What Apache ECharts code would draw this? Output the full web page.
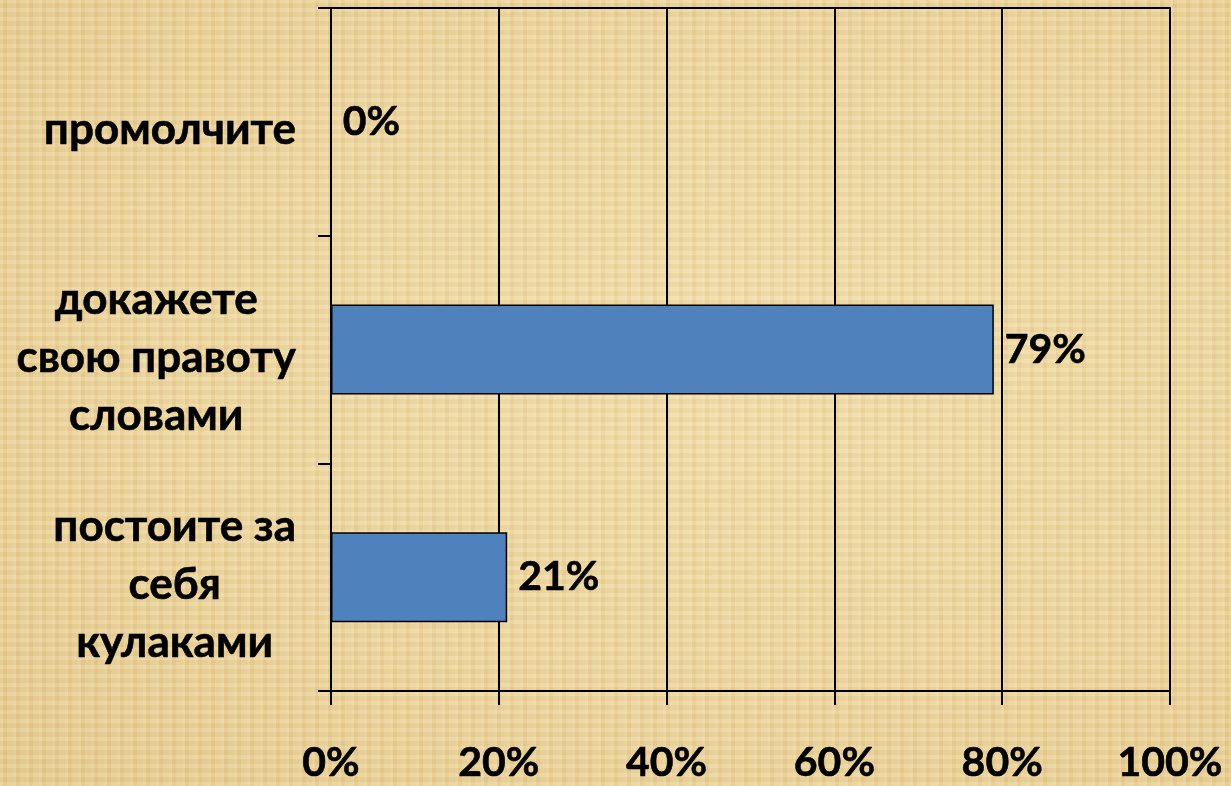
<!DOCTYPE html>
<html>
<head>
<meta charset="utf-8">
<script src="https://cdn.jsdelivr.net/npm/echarts@6/dist/echarts.min.js"></script>
<style>
html,body{margin:0;padding:0;width:1231px;height:786px;overflow:hidden;}
body{
  background-color:#ebd59e;
  background-image:
    repeating-linear-gradient(90deg, rgba(255,250,220,0.16) 0px, rgba(255,250,220,0.16) 3px, rgba(200,160,90,0.07) 3px, rgba(200,160,90,0.07) 7px, rgba(255,245,210,0.1) 7px, rgba(255,245,210,0.1) 13px),
    repeating-linear-gradient(0deg, rgba(255,250,220,0.13) 0px, rgba(255,250,220,0.13) 4px, rgba(190,150,80,0.07) 4px, rgba(190,150,80,0.07) 9px),
    radial-gradient(ellipse at 60% 45%, #f0dca8 0%, #ead29a 55%, #e3c78a 100%);
}
#chart{width:1231px;height:786px;}
</style>
</head>
<body>
<div id="chart"></div>
<script>
const categories = ['промолчите', 'докажете\nсвою правоту\nсловами', 'постоите за\nсебя\nкулаками'];
const values = [0, 79, 21];
const xTicks = [0, 20, 40, 60, 80, 100];

const FONT = 'Lato';
const FS_CAT = 44;
const FS_VAL = 41;
const chart = echarts.init(document.getElementById('chart'));
chart.setOption({
  backgroundColor: 'transparent',
  animation: false,
  grid: { left: 331, right: 61, top: 8, bottom: 95, containLabel: false },
  xAxis: [{
    type: 'value', min: xTicks[0], max: xTicks[xTicks.length - 1], interval: 20,
    position: 'bottom',
    axisLine: { show: true, lineStyle: { color: '#000', width: 2 } },
    axisTick: { show: true, length: 14, inside: false, lineStyle: { color: '#000', width: 2 } },
    splitLine: { show: true, lineStyle: { color: '#000', width: 2 } },
    axisLabel: { formatter: '{value}%', color: '#000', fontFamily: FONT, fontWeight: 'bold', fontSize: FS_VAL, margin: 51,
      textBorderColor: '#000', textBorderWidth: 0.6 }
  }, {
    type: 'value', min: 0, max: 100, interval: 20, position: 'top',
    axisLine: { show: true, lineStyle: { color: '#000', width: 2 } },
    axisTick: { show: false }, axisLabel: { show: false }, splitLine: { show: false }
  }],
  yAxis: {
    type: 'category', inverse: true, data: categories,
    axisLine: { show: true, lineStyle: { color: '#000', width: 2 } },
    axisTick: { show: true, length: 13, alignWithLabel: false, lineStyle: { color: '#000', width: 2 } },
    splitLine: { show: false },
    axisLabel: {
      align: 'right', margin: 35, color: '#000', padding: [16, 0, 0, 0],
      fontFamily: FONT, fontWeight: 'bold', fontSize: FS_CAT, lineHeight: 58,
      formatter: function (v) { return v.split('\n').map(s => '{c|' + s + '}').join('\n'); },
      rich: { c: { align: 'center', color: '#000', fontFamily: FONT, fontWeight: 'bold', fontSize: FS_CAT, lineHeight: 58,
        textBorderColor: '#000', textBorderWidth: 0.6 } }
    }
  },
  series: [{
    type: 'bar', data: values, barWidth: 90,
    itemStyle: { color: '#4F81BD', borderColor: '#000', borderWidth: 1.5 },
    label: { show: true, position: 'right', distance: 11, formatter: '{c}%', color: '#000', padding: [8, 0, 0, 0],
      fontFamily: FONT, fontWeight: 'bold', fontSize: FS_VAL, textBorderColor: '#000', textBorderWidth: 0.6 }
  }]
});
</script>
</body>
</html>
